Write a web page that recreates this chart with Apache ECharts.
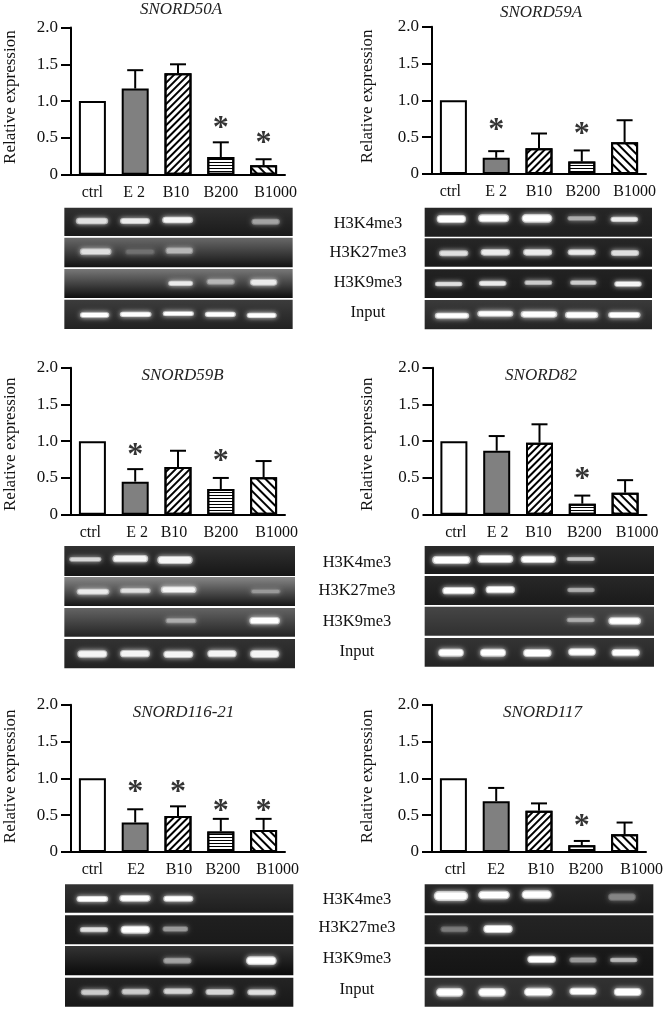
<!DOCTYPE html>
<html><head><meta charset="utf-8">
<style>html,body{margin:0;padding:0;background:#fff}#c{width:667px;height:1010px}</style>
<script src="https://cdn.jsdelivr.net/npm/echarts@6/dist/echarts.min.js"></script>
</head><body><div id="c"></div>
<script>
const categories = ['ctrl','E 2','B10','B200','B1000'];
const categoriesAlt = ['ctrl','E2','B10','B200','B1000'];
const yTicks = {0:'0',0.5:'0.5',1:'1.0',1.5:'1.5',2:'2.0'};
const gelLabels = ['H3K4me3','H3K27me3','H3K9me3','Input'];
const panelNames = ['SNORD50A','SNORD59A','SNORD59B','SNORD82','SNORD116-21','SNORD117'];

// bar heights, upper error limits (null = none), asterisk heights (null = none)
const values50A = [1,1.17,1.38,0.24,0.13];
const upper50A  = [null,1.42,1.50,0.44,0.21];
const stars50A  = [null,null,null,0.71,0.50];
const values59A = [1,0.22,0.35,0.17,0.43];
const upper59A  = [null,0.31,0.55,0.32,0.73];
const stars59A  = [null,0.67,null,0.62,null];
const values59B = [1,0.45,0.65,0.35,0.51];
const upper59B  = [null,0.62,0.87,0.50,0.73];
const stars59B  = [null,0.88,null,0.80,null];
const values82  = [1,0.87,0.98,0.15,0.30];
const upper82   = [null,1.07,1.23,0.26,0.47];
const stars82   = [null,null,null,0.56,null];
const values116 = [1,0.40,0.49,0.28,0.30];
const upper116  = [null,0.58,0.62,0.45,0.45];
const stars116  = [null,0.88,0.89,0.63,0.63];
const values117 = [1,0.69,0.56,0.09,0.24];
const upper117  = [null,0.87,0.66,0.15,0.40];
const stars117  = [null,null,null,0.42,null];

// gel strips: [top, bottom, grey at top, grey at bottom] on each gel's own ruler
const strips50A = [[623,708,48,26],[713,802,105,18],[807,894,120,14],[899,987,60,34]];
const strips59A = [[623,710,38,30],[715,800,38,26],[808,894,34,26],[900,988,58,36]];
const strips59B = [[618,708,50,22],[711,798,135,22],[804,890,100,36],[897,985,50,34]];
const strips82  = [[618,702,42,28],[708,795,40,26],[800,887,70,48],[894,980,52,36]];
const strips116 = [[613,698,50,30],[706,793,32,26],[798,886,52,10],[893,980,36,24]];
const strips117 = [[613,700,38,26],[706,793,36,30],[800,887,26,20],[893,980,50,40]];

// gel bands: [x, y, length, thickness, brightness] on each gel's own ruler
const bands50A = [[276,663,97,20,.85],[405,663,90,18,.9],[533,660,93,20,.95],[797,665,85,18,.55],
 [287,755,95,20,.85],[420,755,90,18,.3],[538,752,83,20,.65],
 [542,850,75,16,.9],[662,845,85,18,.65],[791,847,82,20,.9],
 [284,945,88,16,1],[407,943,95,16,1],[535,941,94,14,1],[661,943,93,16,1],[785,946,90,16,1]];
const bands59A = [[334,657,88,24,1],[461,655,93,24,1],[591,655,92,26,1],[725,655,86,14,.6],[853,658,83,16,.9],
 [341,760,88,18,.85],[466,757,88,20,.9],[593,757,87,20,.9],[725,757,84,18,.9],[855,759,85,18,.85],
 [326,852,83,14,.85],[458,850,83,16,.9],[595,848,84,14,.75],[730,848,80,14,.75],[864,852,82,16,.95],
 [336,947,103,18,1],[466,941,108,18,1],[597,943,110,20,1],[725,945,100,20,1],[853,945,97,18,1]];
const bands59B = [[256,658,97,14,.8],[391,656,107,22,.95],[525,660,106,24,.95],
 [279,755,98,18,.9],[406,752,92,16,.85],[536,749,107,20,.95],[797,754,90,14,.5],
 [543,842,93,16,.6],[794,842,92,22,1],
 [277,942,90,22,.95],[405,941,90,22,.95],[535,943,90,22,.95],[666,941,88,22,.95],[794,942,88,24,.95]];
const bands82 = [[334,660,115,24,1],[466,657,108,24,1],[595,658,106,22,1],[722,657,85,12,.7],
 [356,752,98,22,1],[481,749,88,22,1],[723,750,83,14,.6],
 [722,840,85,14,.6],[854,843,98,22,1],
 [333,938,77,24,1],[459,938,78,24,1],[592,939,85,24,1],[726,936,83,22,1],[857,938,85,22,1]];
const bands116 = [[277,657,95,18,1],[405,655,94,20,1],[535,656,90,18,1],
 [282,749,85,16,.85],[406,749,88,24,1],[526,747,77,16,.5],
 [532,842,85,18,.55],[784,842,92,26,1],
 [285,937,85,18,.75],[407,935,85,18,.75],[534,934,88,18,.8],[659,936,85,18,.8],[785,937,86,18,.85]];
const bands117 = [[333,648,103,30,1],[462,645,95,26,1],[590,644,90,26,1],[846,651,83,22,.4],
 [343,748,83,18,.35],[474,747,88,24,1],
 [605,838,86,22,1],[729,840,82,16,.5],[851,840,83,14,.65],
 [329,937,82,26,1],[456,937,83,26,1],[595,936,86,26,1],[729,934,82,22,1],[863,936,83,24,1]];

const SERIF = '"Liberation Serif","Times New Roman",serif';
const hatch = {
  B10:   {symbol:'rect', color:'#000', dashArrayX:[1,0], dashArrayY:[2,3], rotation:-Math.PI/4},
  B200:  {symbol:'rect', color:'#000', dashArrayX:[1,0], dashArrayY:[1,2], rotation:0},
  B1000: {symbol:'rect', color:'#000', dashArrayX:[1,0], dashArrayY:[2,4], rotation:Math.PI/4}
};

const panels = [
 {name:panelNames[0],v:values50A,u:upper50A,s:stars50A,cats:categories,x:71,top:27.5,h:147.2,shift:[0,-1,-2,0,12],nameX:52,nameShift:4,tx:181,ty:10,
  crop:[0,0],gx:[193,878],gy:[623,987],strips:strips50A,bands:bands50A},
 {name:panelNames[1],v:values59A,u:upper59A,s:stars59A,cats:categories,x:432,top:26.7,h:147.3,shift:[-3,0,0,1,10],nameX:56,nameShift:4,tx:541,ty:13,
  crop:[340,0],gx:[254,936],gy:[623,988],strips:strips59A,bands:bands59A},
 {name:panelNames[2],v:values59B,u:upper59B,s:stars59B,cats:categories,x:71,top:367.7,h:147,shift:[-2,2,-4,0,13],nameX:52,nameShift:-3,tx:182.5,ty:376,
  crop:[0,340],gx:[193,885],gy:[618,985],strips:strips59B,bands:bands59B},
 {name:panelNames[3],v:values82,u:upper82,s:stars82,cats:categories,x:432.5,top:367.7,h:147,shift:[2,1,-1,2,12],nameX:56,nameShift:-3,tx:541,ty:376,
  crop:[340,340],gx:[254,942],gy:[618,980],strips:strips82,bands:bands82},
 {name:panelNames[4],v:values116,u:upper116,s:stars116,cats:categoriesAlt,x:71,top:704.7,h:147.3,shift:[0,1,1,2,14],nameX:52,nameShift:2,tx:183.5,ty:713,
  crop:[0,680],gx:[195,880],gy:[613,980],strips:strips116,bands:bands116},
 {name:panelNames[5],v:values117,u:upper117,s:stars117,cats:categoriesAlt,x:432,top:704.7,h:147.3,shift:[2,0,2,4,17],nameX:56,nameShift:2,tx:542.5,ty:713,
  crop:[340,680],gx:[254,940],gy:[613,980],strips:strips117,bands:bands117}
];

const grid=[],xAxis=[],yAxis=[],series=[],title=[];
const grey=g=>`rgb(${g},${g},${g})`;

function renderError(p,api){
  const u=api.value(2); if(u==null||isNaN(u)) return;
  const a=api.coord([api.value(0),api.value(1)]), b=api.coord([api.value(0),u]);
  const st={stroke:'#000',lineWidth:2,fill:null};
  return {type:'group',children:[
    {type:'line',shape:{x1:a[0],y1:a[1],x2:b[0],y2:b[1]},style:st},
    {type:'line',shape:{x1:b[0]-8,y1:b[1],x2:b[0]+8,y2:b[1]},style:st}
  ]};
}
function renderStrip(gx){
  return function(p,api){
    const a=api.coord([gx[0],api.value(0)]), b=api.coord([gx[1],api.value(1)]);
    return {type:'rect',shape:{x:a[0],y:a[1],width:b[0]-a[0],height:b[1]-a[1]},
      style:{fill:new echarts.graphic.LinearGradient(0,0,0,1,[
        {offset:0,color:grey(api.value(2))},{offset:1,color:grey(api.value(3))}])}};
  };
}
function renderBand(p,api){
  const c=api.coord([api.value(0),api.value(1)]);
  const s=api.size([api.value(2),api.value(3)]);
  const b=api.value(4), g=Math.round(50+205*b), g2=Math.round(g*0.8);
  const w=s[0],h=s[1];
  return {type:'group',children:[
    {type:'rect',shape:{x:c[0]-w/2,y:c[1]-h/2,width:w,height:h,r:h/2},
     style:{fill:grey(g2),shadowColor:`rgba(${g},${g},${g},0.8)`,shadowBlur:5}},
    {type:'rect',shape:{x:c[0]-w*0.46,y:c[1]-h*0.36,width:w*0.92,height:h*0.72,r:h*0.36},
     style:{fill:grey(g)}}
  ]};
}

panels.forEach((p,i)=>{
  const ci=i*2, gi=i*2+1;
  grid.push({left:p.x,top:p.top,width:214,height:p.h,containLabel:false,outerBoundsMode:'none'});
  xAxis.push({gridIndex:ci,type:'category',
    data:p.cats.map((c,k)=>{
      const d=p.shift[k]*2;
      return {value:c,textStyle:{padding:d>=0?[0,0,0,d]:[0,-d,0,0]}};
    }),
    axisLine:{lineStyle:{color:'#000',width:2}},axisTick:{show:false},
    axisLabel:{interval:0,margin:10,color:'#111',fontFamily:SERIF,fontSize:16,hideOverlap:false},
    splitLine:{show:false}});
  yAxis.push({gridIndex:ci,type:'value',min:0,max:2,interval:0.5,
    axisLine:{show:true,lineStyle:{color:'#000',width:2}},
    axisTick:{show:true,length:10,lineStyle:{color:'#000',width:2}},
    axisLabel:{margin:13,color:'#111',fontFamily:SERIF,fontSize:17,formatter:v=>yTicks[v]},
    splitLine:{show:false},
    name:'Relative expression',nameLocation:'middle',nameGap:p.nameX,
    nameTextStyle:{color:'#111',fontFamily:SERIF,fontSize:17,
      padding:p.nameShift>=0?[0,0,0,2*p.nameShift]:[0,-2*p.nameShift,0,0]}});
  series.push({type:'bar',xAxisIndex:ci,yAxisIndex:ci,barWidth:27,silent:true,
    data:p.v.map((v,k)=>{
      const key=p.cats[k];
      const it={color:k===1?'#808080':'#fff',borderColor:'#000',borderWidth:2};
      if(hatch[key]) it.decal=hatch[key];
      return {value:v,itemStyle:it};
    })});
  series.push({type:'custom',xAxisIndex:ci,yAxisIndex:ci,silent:true,z:3,clip:false,
    renderItem:renderError,encode:{x:0,y:[1,2]},
    data:p.v.map((v,k)=>[k,v,p.u[k]]).filter(d=>d[2]!=null)});
  series.push({type:'scatter',xAxisIndex:ci,yAxisIndex:ci,silent:true,symbolSize:1,itemStyle:{color:'transparent'},z:4,
    data:p.s.map((v,k)=>[k,v]).filter(d=>d[1]!=null),
    label:{show:true,formatter:'*',position:'inside',offset:[0,6],color:'#000',fontFamily:SERIF,fontWeight:'bold',fontSize:32}});
  title.push({text:p.name,left:p.tx,top:p.ty,textAlign:'center',textVerticalAlign:'middle',padding:0,
    textStyle:{fontFamily:SERIF,fontStyle:'italic',fontWeight:'normal',fontSize:17,color:'#222'}});

  grid.push({left:p.crop[0]+p.gx[0]/3,top:p.crop[1]+p.gy[0]/3,
    width:(p.gx[1]-p.gx[0])/3,height:(p.gy[1]-p.gy[0])/3,containLabel:false,outerBoundsMode:'none'});
  xAxis.push({gridIndex:gi,type:'value',min:p.gx[0],max:p.gx[1],show:false});
  yAxis.push({gridIndex:gi,type:'value',min:p.gy[0],max:p.gy[1],inverse:true,show:false});
  series.push({type:'custom',xAxisIndex:gi,yAxisIndex:gi,silent:true,z:1,clip:false,
    renderItem:renderStrip(p.gx),encode:{y:[0,1]},data:p.strips});
  series.push({type:'custom',xAxisIndex:gi,yAxisIndex:gi,silent:true,z:2,clip:false,
    renderItem:renderBand,encode:{x:0,y:1},data:p.bands});
});

const gelText=(t,x,y)=>({type:'text',x:x,y:y,style:{text:t,fontFamily:SERIF,fontSize:16.5,fill:'#111',align:'center',verticalAlign:'middle'}});
const gelLabelRows=[[368,[224,253,283,313]],[357,[563,591,622,652]],[357,[900,928,959,990]]];
const graphic=[];
gelLabelRows.forEach(r=>{
  gelLabels.forEach((t,k)=>{ graphic.push(gelText(t,r[0],r[1][k])); });
});

const chart=echarts.init(document.getElementById('c'),null,{renderer:'canvas'});
chart.setOption({animation:false,backgroundColor:'#fff',tooltip:{show:false},legend:{show:false},
  grid,xAxis,yAxis,series,title,graphic});
</script></body></html>
